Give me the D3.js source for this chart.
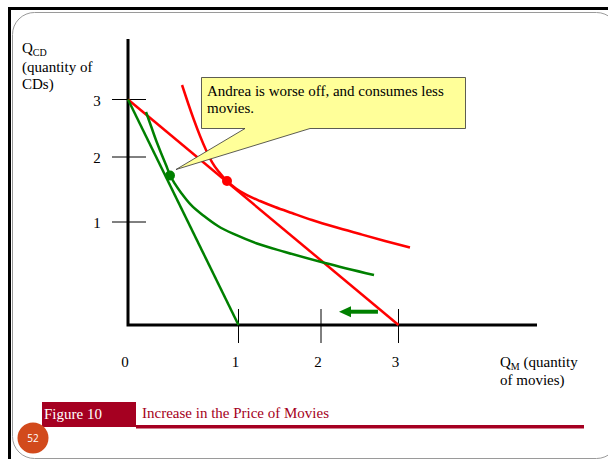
<!DOCTYPE html>
<html>
<head>
<meta charset="utf-8">
<script src="https://cdn.jsdelivr.net/npm/d3@7"></script>
<style>
	html, body { margin: 0; padding: 0; background: #fff; }
	svg { display: block; }
	text { font-family: "Liberation Serif", "Times New Roman", serif; }
</style>
</head>
<body>
<div id="chart"></div>
<script>
'use strict';
(function() {
	//Tick values on each axis
	var xTicks = [1, 2, 3];
	var yTicks = [1, 2, 3];
	var xLabels = ['0', '1', '2', '3'];
	var yLabels = ['1', '2', '3'];

	//Budget lines (end points, in units of movies / CDs)
	var budgetOld = [[0, 3], [3, 0]];
	var budgetNew = [[0, 3], [1, 0]];

	//Indifference curves
	var curveOld = [[0.489, 3.252], [0.543, 2.939], [0.597, 2.643], [0.652, 2.365], [0.706, 2.122],
		[0.760, 1.923], [0.824, 1.769], [0.896, 1.631], [0.977, 1.515], [1.103, 1.415],
		[1.261, 1.323], [1.442, 1.231], [1.648, 1.138], [1.891, 1.031], [2.181, 0.951],
		[2.503, 0.883], [2.826, 0.816], [3.148, 0.752]];
	var curveNew = [[0.163, 2.783], [0.208, 2.539], [0.253, 2.296], [0.299, 2.070], [0.344, 1.877],
		[0.380, 1.723], [0.425, 1.585], [0.489, 1.431], [0.570, 1.262], [0.688, 1.092],
		[0.814, 0.961], [0.977, 0.874], [1.224, 0.791], [1.564, 0.709], [2.052, 0.602],
		[2.684, 0.485]];

	//Optimal bundles
	var optimumOld = [0.896, 1.631];
	var optimumNew = [0.380, 1.715];

	//Shift arrow (from, to)
	var shiftArrow = [[2.735, 0.129], [2.232, 0.129]];

	var calloutText = ['Andrea is worse off, and consumes less', 'movies.'];
	var figureLabel = 'Figure 10';
	var figureTitle = 'Increase in the Price of Movies';
	var pageNumber = '52';

	var width = 608, height = 459;
	var RED = '#ff0000', GREEN = '#008000', DARKRED = '#a50021';

	var svg = d3.select('#chart').append('svg')
		.attr('width', width)
		.attr('height', height);

	/***************************************
	 * FRAME
	 ***************************************/
	svg.append('rect')
		.attr('x', 12.5).attr('y', 12.5)
		.attr('width', 606).attr('height', 446)
		.attr('rx', 22).attr('ry', 22)
		.attr('fill', 'none')
		.attr('stroke', '#9a9a9a')
		.attr('stroke-width', 1);
	svg.append('path')
		.attr('d', 'M9.5,' + height + 'V8.5H' + width)
		.attr('fill', 'none')
		.attr('stroke', '#000')
		.attr('stroke-width', 3);

	/***************************************
	 * SCALES (the slide spaces its ticks unevenly)
	 ***************************************/
	var x = d3.scaleLinear().domain([0, 1, 2, 3]).range([128, 238.5, 321, 398.5]);
	var y = d3.scaleLinear().domain([0, 1, 2, 3]).range([325, 222, 157, 99.5]);
	var xEnd = 537, yEnd = 39;

	var line = d3.line()
		.x(function(d) { return x(d[0]); })
		.y(function(d) { return y(d[1]); });
	var smooth = d3.line()
		.x(function(d) { return x(d[0]); })
		.y(function(d) { return y(d[1]); })
		.curve(d3.curveMonotoneX);

	/***************************************
	 * AXES
	 ***************************************/
	var axes = svg.append('g').classed('axes', true);
	axes.append('path')
		.attr('d', 'M' + x(0) + ',' + yEnd + 'V' + y(0) + 'H' + xEnd)
		.attr('fill', 'none')
		.attr('stroke', '#000')
		.attr('stroke-width', 3);

	//crossing tick marks
	axes.selectAll('line.xtick')
		.data(xTicks)
		.enter().append('line')
			.classed('xtick', true)
			.attr('x1', function(d) { return x(d); })
			.attr('x2', function(d) { return x(d); })
			.attr('y1', y(0) - 16)
			.attr('y2', y(0) + 18)
			.attr('stroke', '#000')
			.attr('stroke-width', 1);
	axes.selectAll('line.ytick')
		.data(yTicks)
		.enter().append('line')
			.classed('ytick', true)
			.attr('x1', x(0) - 16)
			.attr('x2', x(0) + 18)
			.attr('y1', function(d) { return y(d); })
			.attr('y2', function(d) { return y(d); })
			.attr('stroke', '#000')
			.attr('stroke-width', 1);

	axes.selectAll('text.xlabel')
		.data(xLabels)
		.enter().append('text')
			.classed('xlabel', true)
			.attr('x', function(d, i) { return x(i) - 3; })
			.attr('y', 367)
			.attr('text-anchor', 'middle')
			.attr('font-size', 15)
			.text(function(d) { return d; });
	axes.selectAll('text.ylabel')
		.data(yLabels)
		.enter().append('text')
			.classed('ylabel', true)
			.attr('x', 97)
			.attr('y', function(d, i) { return y(yTicks[i]) + 6; })
			.attr('text-anchor', 'middle')
			.attr('font-size', 15)
			.text(function(d) { return d; });

	//axis titles
	var yTitle = axes.append('text').attr('x', 22).attr('y', 53).attr('font-size', 15);
	yTitle.append('tspan').text('Q');
	yTitle.append('tspan').attr('font-size', 10).attr('dy', 3).text('CD');
	axes.append('text').attr('x', 22).attr('y', 72).attr('font-size', 15).text('(quantity of');
	axes.append('text').attr('x', 22).attr('y', 89).attr('font-size', 15).text('CDs)');

	var xTitle = axes.append('text').attr('x', 500).attr('y', 367).attr('font-size', 15);
	xTitle.append('tspan').text('Q');
	xTitle.append('tspan').attr('font-size', 10).attr('dy', 3).text('M');
	xTitle.append('tspan').attr('dy', -3).text(' (quantity');
	axes.append('text').attr('x', 500).attr('y', 385).attr('font-size', 15).text('of movies)');

	/***************************************
	 * CURVES
	 ***************************************/
	var plot = svg.append('g').classed('plot', true);
	plot.append('path').datum(budgetOld)
		.attr('d', line).attr('fill', 'none').attr('stroke', RED).attr('stroke-width', 2.5);
	plot.append('path').datum(curveOld)
		.attr('d', smooth).attr('fill', 'none').attr('stroke', RED).attr('stroke-width', 2.5);
	plot.append('path').datum(budgetNew)
		.attr('d', line).attr('fill', 'none').attr('stroke', GREEN).attr('stroke-width', 2.5);
	plot.append('path').datum(curveNew)
		.attr('d', smooth).attr('fill', 'none').attr('stroke', GREEN).attr('stroke-width', 2.5);

	plot.append('circle')
		.attr('cx', x(optimumOld[0])).attr('cy', y(optimumOld[1]))
		.attr('r', 5).attr('fill', RED);
	plot.append('circle')
		.attr('cx', x(optimumNew[0])).attr('cy', y(optimumNew[1]))
		.attr('r', 5).attr('fill', GREEN);

	//shift arrow
	var ax0 = x(shiftArrow[0][0]), ax1 = x(shiftArrow[1][0]), ay = y(shiftArrow[0][1]);
	plot.append('line')
		.attr('x1', ax0).attr('x2', ax1 + 10)
		.attr('y1', ay).attr('y2', ay)
		.attr('stroke', GREEN).attr('stroke-width', 4);
	plot.append('path')
		.attr('d', 'M' + ax1 + ',' + ay + 'L' + (ax1 + 12) + ',' + (ay - 5.5) + 'V' + (ay + 5.5) + 'Z')
		.attr('fill', GREEN);

	/***************************************
	 * CALLOUT
	 ***************************************/
	var tipX = x(optimumNew[0]) + 6, tipY = y(optimumNew[1]) - 6;
	var bx = 201.5, by = 77.5, bw = 264, bh = 51;
	var callout = svg.append('g').classed('callout', true);
	callout.append('path')
		.attr('d', 'M' + bx + ',' + by + 'H' + (bx + bw) + 'V' + (by + bh) +
			'H310L' + tipX + ',' + tipY + 'L245,' + (by + bh) + 'H' + bx + 'Z')
		.attr('fill', '#ffff99')
		.attr('stroke', '#333')
		.attr('stroke-width', 0.8);
	callout.selectAll('text')
		.data(calloutText)
		.enter().append('text')
			.attr('x', 207)
			.attr('y', function(d, i) { return 96 + i * 17; })
			.attr('font-size', 15)
			.text(function(d) { return d; });

	/***************************************
	 * FOOTER
	 ***************************************/
	var footer = svg.append('g').classed('footer', true);
	footer.append('rect')
		.attr('x', 42).attr('y', 402)
		.attr('width', 94).attr('height', 25)
		.attr('fill', DARKRED);
	footer.append('rect')
		.attr('x', 136).attr('y', 425)
		.attr('width', 448).attr('height', 3.5)
		.attr('fill', DARKRED);
	footer.append('text')
		.attr('x', 44).attr('y', 419)
		.attr('font-size', 15)
		.attr('fill', '#fff')
		.text(figureLabel);
	footer.append('text')
		.attr('x', 142).attr('y', 418)
		.attr('font-size', 15)
		.attr('fill', DARKRED)
		.text(figureTitle);

	footer.append('circle')
		.attr('cx', 33).attr('cy', 438)
		.attr('r', 15.5)
		.attr('fill', '#d24a1c');
	footer.append('text')
		.attr('x', 33).attr('y', 442)
		.attr('text-anchor', 'middle')
		.attr('font-size', 10)
		.attr('fill', '#fff')
		.style('font-family', '"Open Sans", "DejaVu Sans", sans-serif')
		.text(pageNumber);
})();
</script>
</body>
</html>
